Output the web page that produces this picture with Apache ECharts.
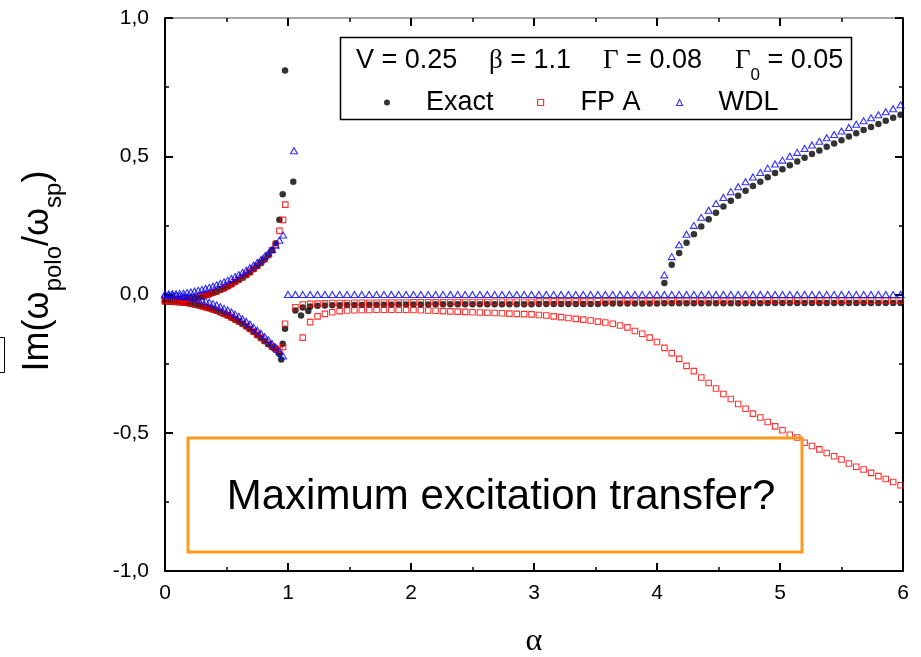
<!DOCTYPE html>
<html><head><meta charset="utf-8">
<script src="https://cdn.jsdelivr.net/npm/echarts/dist/echarts.min.js"></script>
<style>html,body{margin:0;padding:0;background:#fff}#c{width:921px;height:657px}</style>
</head><body><div id="c"></div>
<script>
// ---- data ----
const alphaLow = [0,0.03,0.06,0.09,0.12,0.15,0.18,0.21,0.24,0.27,0.30,0.33,0.36,0.39,0.42,0.45,0.48,0.51,0.54,0.57,0.60,0.63,0.66,0.69,0.72,0.75,0.78,0.81,0.84,0.87,0.90,0.93,0.96];
const wdlUpperLow = [0.002,0.002,0.003,0.003,0.004,0.005,0.007,0.009,0.012,0.015,0.018,0.022,0.026,0.030,0.035,0.040,0.046,0.052,0.058,0.065,0.072,0.080,0.088,0.097,0.106,0.116,0.126,0.138,0.150,0.163,0.178,0.196,0.215];
const wdlLowerLow = [-0.002,-0.002,-0.003,-0.004,-0.005,-0.006,-0.008,-0.010,-0.013,-0.016,-0.020,-0.024,-0.028,-0.033,-0.038,-0.044,-0.050,-0.056,-0.063,-0.071,-0.079,-0.088,-0.097,-0.107,-0.118,-0.129,-0.140,-0.152,-0.164,-0.177,-0.190,-0.205,-0.222];
const fpaUpperLow = [-0.022,-0.022,-0.021,-0.021,-0.020,-0.019,-0.017,-0.015,-0.012,-0.009,-0.006,-0.002,0.002,0.007,0.012,0.018,0.024,0.031,0.038,0.046,0.054,0.063,0.072,0.082,0.093,0.104,0.116,0.129,0.143,0.160,0.180,0.230,0.270];
const fpaLowerLow = [-0.024,-0.024,-0.025,-0.026,-0.027,-0.028,-0.030,-0.032,-0.035,-0.038,-0.041,-0.045,-0.049,-0.053,-0.058,-0.063,-0.069,-0.075,-0.082,-0.089,-0.097,-0.105,-0.114,-0.124,-0.134,-0.145,-0.156,-0.167,-0.178,-0.188,-0.196,-0.200,-0.190];
const exactUpperLow = [-0.024,-0.024,-0.023,-0.023,-0.022,-0.021,-0.019,-0.017,-0.014,-0.011,-0.008,-0.004,0.000,0.005,0.010,0.016,0.022,0.029,0.036,0.044,0.052,0.061,0.070,0.080,0.091,0.102,0.114,0.127,0.142,0.160,0.185,0.270,null];
const exactLowerLow = [-0.026,-0.026,-0.027,-0.028,-0.029,-0.030,-0.032,-0.034,-0.037,-0.040,-0.043,-0.047,-0.051,-0.055,-0.060,-0.065,-0.071,-0.077,-0.084,-0.091,-0.099,-0.107,-0.116,-0.126,-0.136,-0.147,-0.158,-0.169,-0.180,-0.191,-0.201,-0.215,null];

const exactNear1 = [[0.957,0.363],[0.976,0.81],[1.043,0.408],[0.945,-0.235],[0.957,-0.178],[0.976,-0.124],[1.106,-0.076],[1.165,-0.06]];
const fpaNear1 = [[0.978,0.325],[0.976,-0.106]];
const wdlNear1 = [[1.049,0.52]];

const alphaHigh = [1.00,1.06,1.12,1.18,1.24,1.30,1.36,1.42,1.48,1.54,1.60,1.66,1.72,1.78,1.84,1.90,1.96,2.02,2.08,2.14,2.20,2.26,2.32,2.38,2.44,2.50,2.56,2.62,2.68,2.74,2.80,2.86,2.92,2.98,3.04,3.10,3.16,3.22,3.28,3.34,3.40,3.46,3.52,3.58,3.64,3.70,3.76,3.82,3.88,3.94,4.00,4.06,4.12,4.18,4.24,4.30,4.36,4.42,4.48,4.54,4.60,4.66,4.72,4.78,4.84,4.90,4.96,5.02,5.08,5.14,5.20,5.26,5.32,5.38,5.44,5.50,5.56,5.62,5.68,5.74,5.80,5.86,5.92,5.98];
const wdlFlat = [0,0,0,0,0,0,0,0,0,0, 0,0,0,0,0,0,0,0,0,0, 0,0,0,0,0,0,0,0,0,0, 0,0,0,0,0,0,0,0,0,0, 0,0,0,0,0,0,0,0,0,0, 0,0,0,0,0,0,0,0,0,0, 0,0,0,0,0,0,0,0,0,0, 0,0,0,0,0,0,0,0,0,0, 0,0,0,0];
const exactFlat = [null,-0.058,-0.047,-0.043,-0.041,-0.040,-0.039,-0.039,-0.038,-0.038,
 -0.038,-0.037,-0.037,-0.037,-0.037,-0.036,-0.036,-0.036,-0.036,-0.036,
 -0.035,-0.035,-0.035,-0.035,-0.035,-0.035,-0.035,-0.035,-0.035,-0.035,
 -0.035,-0.035,-0.035,-0.035,-0.034,-0.034,-0.034,-0.034,-0.034,-0.034,
 -0.034,-0.034,-0.034,-0.033,-0.033,-0.033,-0.033,-0.033,-0.033,-0.033,
 -0.033,-0.032,-0.032,-0.032,-0.032,-0.032,-0.032,-0.032,-0.032,-0.032,
 -0.032,-0.032,-0.032,-0.032,-0.032,-0.031,-0.031,-0.031,-0.031,-0.031,
 -0.031,-0.031,-0.031,-0.031,-0.031,-0.031,-0.031,-0.031,-0.031,-0.031,
 -0.031,-0.031,-0.031,-0.031];
const fpaFlat = [null,-0.046,-0.036,-0.034,-0.033,-0.032,-0.031,-0.031,-0.031,-0.030,
 -0.030,-0.030,-0.030,-0.029,-0.029,-0.029,-0.029,-0.028,-0.028,-0.028,
 -0.028,-0.028,-0.027,-0.027,-0.027,-0.027,-0.027,-0.027,-0.026,-0.026,
 -0.026,-0.026,-0.026,-0.026,-0.025,-0.025,-0.025,-0.025,-0.025,-0.025,
 -0.025,-0.025,-0.024,-0.024,-0.024,-0.024,-0.024,-0.024,-0.024,-0.024,
 -0.024,-0.023,-0.023,-0.023,-0.023,-0.023,-0.023,-0.023,-0.023,-0.023,
 -0.023,-0.023,-0.023,-0.022,-0.022,-0.022,-0.022,-0.022,-0.022,-0.022,
 -0.022,-0.022,-0.022,-0.022,-0.022,-0.022,-0.022,-0.022,-0.022,-0.022,
 -0.022,-0.022,-0.022,-0.022];
const fpaDescend = [null,null,-0.156,-0.100,-0.079,-0.070,-0.064,-0.060,-0.058,-0.057,
 -0.056,-0.056,-0.055,-0.055,-0.055,-0.055,-0.055,-0.056,-0.057,-0.058,
 -0.059,-0.060,-0.061,-0.062,-0.063,-0.064,-0.065,-0.066,-0.067,-0.068,
 -0.069,-0.070,-0.071,-0.072,-0.074,-0.076,-0.079,-0.082,-0.085,-0.088,
 -0.091,-0.094,-0.098,-0.101,-0.106,-0.112,-0.119,-0.132,-0.142,-0.156,
 -0.172,-0.193,-0.212,-0.233,-0.258,-0.277,-0.300,-0.320,-0.340,-0.360,
 -0.378,-0.396,-0.413,-0.431,-0.445,-0.461,-0.477,-0.491,-0.507,-0.517,
 -0.536,-0.548,-0.560,-0.573,-0.585,-0.597,-0.611,-0.623,-0.633,-0.645,
 -0.657,-0.667,-0.678,-0.690];

const alphaGrow = [4.06,4.12,4.18,4.24,4.30,4.36,4.42,4.48,4.54,4.60,4.66,4.72,4.78,4.84,4.90,4.96,5.02,5.08,5.14,5.20,5.26,5.32,5.38,5.44,5.50,5.56,5.62,5.68,5.74,5.80,5.86,5.92,5.98];
const exactGrow = [0.042,0.108,0.150,0.187,0.218,0.246,0.272,0.296,0.318,0.339,0.357,0.375,0.392,0.408,0.424,0.439,0.453,0.467,0.481,0.495,0.508,0.521,0.534,0.546,0.558,0.571,0.583,0.595,0.606,0.617,0.628,0.639,0.650];
const wdlGrow = [0.071,0.137,0.180,0.218,0.250,0.279,0.305,0.329,0.351,0.372,0.390,0.408,0.425,0.441,0.457,0.472,0.486,0.500,0.514,0.528,0.541,0.554,0.567,0.579,0.591,0.604,0.616,0.628,0.639,0.650,0.661,0.672,0.686];

const xTicks = [0,1,2,3,4,5,6];
const yTicks = [-1,-0.5,0,0.5,1];
const seriesNames = ['Exact','FP A','WDL'];
const paramText = ['V = 0.25','β = 1.1','Γ = 0.08','Γ0 = 0.05'];
const annotation = 'Maximum excitation transfer?';

// ---- build ----
function pairs(xs, ys){ const out=[]; for(let i=0;i<xs.length;i++){ if(ys[i]!==null && ys[i]!==undefined) out.push([xs[i], ys[i]]); } return out; }
const exactData = [].concat(pairs(alphaLow, exactUpperLow), pairs(alphaLow, exactLowerLow), pairs(alphaHigh, exactFlat), pairs(alphaGrow, exactGrow), exactNear1);
const fpaData = [].concat(pairs(alphaLow, fpaUpperLow), pairs(alphaLow, fpaLowerLow), pairs(alphaHigh, fpaFlat), pairs(alphaHigh, fpaDescend), fpaNear1);
const wdlData = [].concat(pairs(alphaLow, wdlUpperLow), pairs(alphaLow, wdlLowerLow), pairs(alphaHigh, wdlFlat), pairs(alphaGrow, wdlGrow), wdlNear1);

const SANS = '"Liberation Sans", Arial, sans-serif';
const SERIF = '"Liberation Serif", "Times New Roman", serif';
const chart = echarts.init(document.getElementById('c'), null, {renderer:'canvas'});

function axisCommon(pos, showLabel, lineColor, lineW){
  return {
    type:'value', position:pos,
    axisLine:{show:true, onZero:false, lineStyle:{color:lineColor, width:lineW}},
    axisTick:{show:true, inside:true, length:8, lineStyle:{color:'#000', width:2}},
    minorTick:{show:true, splitNumber:2, length:4, lineStyle:{color:'#000', width:1.5}},
    splitLine:{show:false}, minorSplitLine:{show:false},
    axisLabel:{show:showLabel, color:'#000', fontSize:21, fontFamily:SANS}
  };
}
const xb = Object.assign(axisCommon('bottom', true, '#000', 2), {min:xTicks[0], max:xTicks[xTicks.length-1], interval:1,
  name:'α', nameLocation:'middle', nameGap:55, nameTextStyle:{fontSize:32, fontFamily:SERIF, color:'#000'}});
xb.axisLabel.margin = 12;
const xt = Object.assign(axisCommon('top', false, '#888', 1.5), {min:0, max:6, interval:1});
const yl = Object.assign(axisCommon('left', true, '#000', 2), {min:yTicks[0], max:yTicks[yTicks.length-1], interval:0.5});
yl.axisLabel.margin = 16;
yl.axisLabel.formatter = v => v.toFixed(1).replace('.', ',');
const yr = Object.assign(axisCommon('right', false, '#000', 2), {min:-1, max:1, interval:0.5});

function legendFor(name, icon, left, pad, iconStyle, w, h){
  return {data:[{name:name, icon:icon, itemStyle:iconStyle}], left:left, top:89, padding:0, itemWidth:w, itemHeight:h,
    selectedMode:false, textStyle:{fontSize:27, fontFamily:SANS, color:'#000', padding:[0,0,0,pad]}};
}

const option = {
  animation:false,
  backgroundColor:'#fff',
  grid:{left:165, right:18, top:18, bottom:86, containLabel:false, outerBoundsMode:'none'},
  xAxis:[xb, xt],
  yAxis:[yl, yr],
  legend:[
    legendFor(seriesNames[0],'circle',384,31,{color:'#000', borderWidth:0},6,6),
    legendFor(seriesNames[1],'rect',537,32,{color:'rgba(255,255,255,0)', borderColor:'#ff0000', borderWidth:1.2},6,6),
    legendFor(seriesNames[2],'triangle',676,31,{color:'rgba(255,255,255,0)', borderColor:'#0000ff', borderWidth:1.1},6,6)
  ],
  series:[
    {name:seriesNames[0], type:'scatter', xAxisIndex:0, yAxisIndex:0, symbol:'circle', symbolSize:6.5,
     itemStyle:{color:'#000'}, data:exactData, z:2},
    {name:seriesNames[1], type:'scatter', xAxisIndex:0, yAxisIndex:0, symbol:'rect', symbolSize:5.5,
     itemStyle:{color:'rgba(255,255,255,0)', borderColor:'#ff0000', borderWidth:1.1}, data:fpaData, z:3},
    {name:seriesNames[2], type:'scatter', xAxisIndex:0, yAxisIndex:0, symbol:'triangle', symbolSize:[7,6],
     itemStyle:{color:'rgba(255,255,255,0)', borderColor:'#0000ff', borderWidth:1.1}, data:wdlData, z:4}
  ],
  graphic:[
    {type:'rect', shape:{x:340.5, y:37.5, width:511, height:82}, style:{fill:'none', stroke:'#000', lineWidth:1.5}, z:10},
    {type:'text', x:356, y:61, z:11, style:{text:paramText[0], font:'27px '+SANS, fill:'#000', verticalAlign:'middle'}},
    {type:'text', x:489, y:61, z:11, style:{text:'{g|β}{n| = 1.1}', verticalAlign:'middle',
      rich:{g:{fontSize:27, fontFamily:SERIF, fill:'#000'}, n:{fontSize:27, fontFamily:SANS, fill:'#000'}}}},
    {type:'text', x:603, y:61, z:11, style:{text:'{g|Γ}{n| = 0.08}', verticalAlign:'middle',
      rich:{g:{fontSize:27, fontFamily:SERIF, fill:'#000'}, n:{fontSize:27, fontFamily:SANS, fill:'#000'}}}},
    {type:'text', x:735, y:61, z:11, style:{text:'{g|Γ}{s|0}{n| = 0.05}', verticalAlign:'middle',
      rich:{g:{fontSize:27, fontFamily:SERIF, fill:'#000', verticalAlign:'middle'},
            s:{fontSize:17, fontFamily:SANS, fill:'#000', verticalAlign:'bottom', lineHeight:46},
            n:{fontSize:27, fontFamily:SANS, fill:'#000', verticalAlign:'middle'}}}},
    {type:'rect', shape:{x:188, y:438, width:614, height:114}, style:{fill:'none', stroke:'#FB9A1E', lineWidth:3}, z:10},
    {type:'text', x:501, y:497, z:11, style:{text:annotation, font:'42px '+SANS, fill:'#000', align:'center', verticalAlign:'middle'}},
    {type:'rect', shape:{x:-6, y:337.5, width:10.5, height:35}, style:{fill:'none', stroke:'#000', lineWidth:1}, z:10},
    {type:'text', x:38, y:271, rotation:Math.PI/2, z:11, style:{text:'{m|Im(ω}{s|polo}{m|/ω}{s|sp}{m|)}', align:'center', verticalAlign:'middle',
      rich:{m:{fontSize:36, fontFamily:SANS, fill:'#000', verticalAlign:'middle'},
            s:{fontSize:24, fontFamily:SANS, fill:'#000', verticalAlign:'bottom', lineHeight:56}}}}
  ]
};
chart.setOption(option);
</script>
</body></html>
